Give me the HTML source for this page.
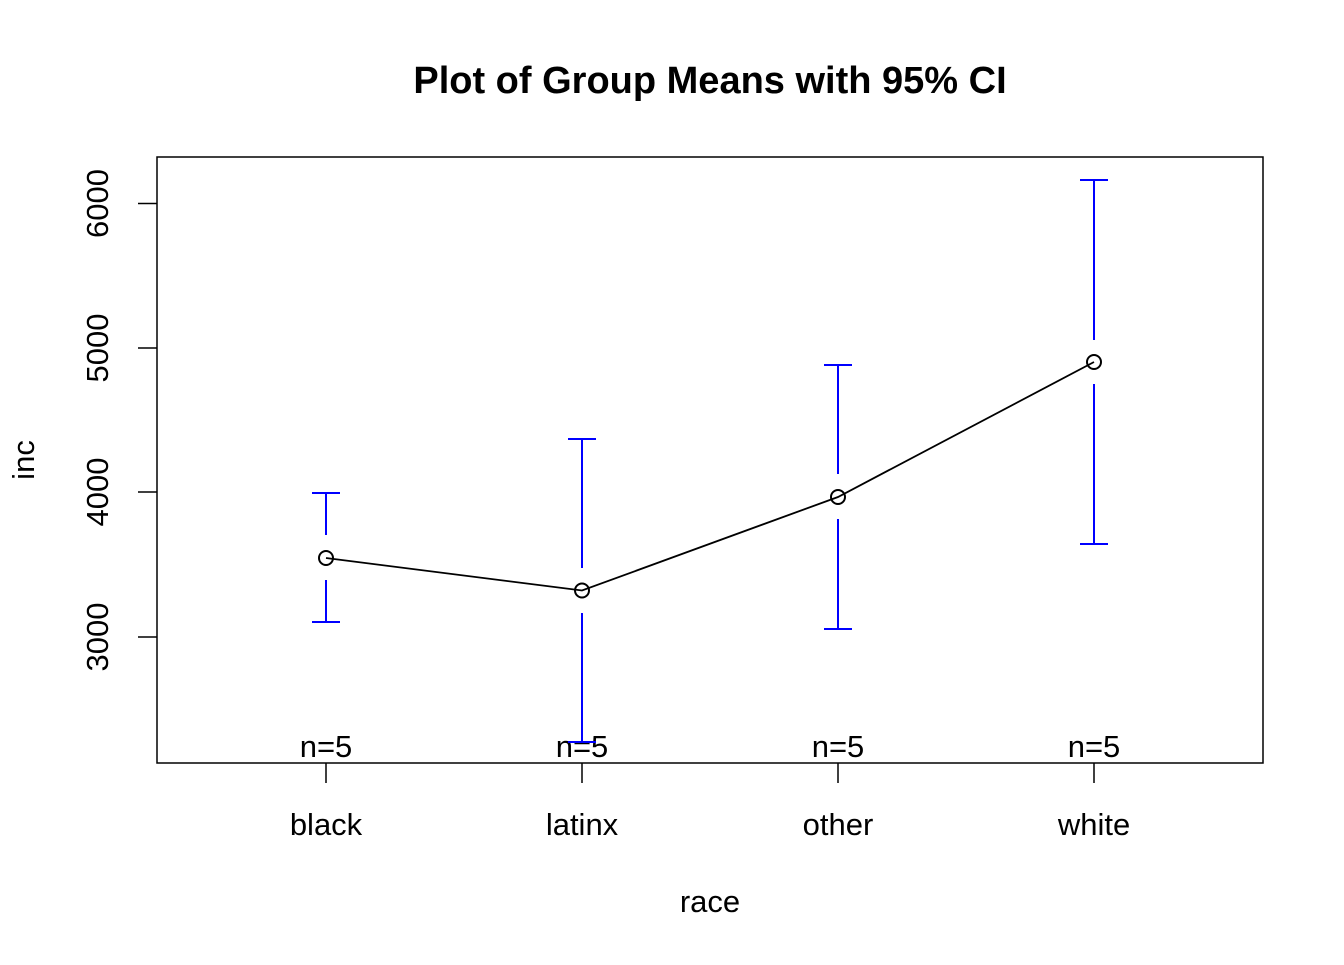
<!DOCTYPE html>
<html><head><style>body{margin:0;background:#fff}</style></head><body>
<svg width="1344" height="960" xmlns="http://www.w3.org/2000/svg" font-family="Liberation Sans, Arial, sans-serif">
<rect width="1344" height="960" fill="#fff"/>
<text x="710" y="93" font-size="38" font-weight="bold" text-anchor="middle">Plot of Group Means with 95% CI</text>
<rect x="157" y="157" width="1106" height="606" fill="none" stroke="#000" stroke-width="1.5"/>
<g stroke="#000" stroke-width="1.5">
<line x1="138" y1="203.5" x2="157" y2="203.5"/><line x1="138" y1="348" x2="157" y2="348"/>
<line x1="138" y1="492" x2="157" y2="492"/><line x1="138" y1="637" x2="157" y2="637"/>
<line x1="326" y1="763" x2="326" y2="783"/><line x1="582" y1="763" x2="582" y2="783"/>
<line x1="838" y1="763" x2="838" y2="783"/><line x1="1094" y1="763" x2="1094" y2="783"/>
</g>
<g font-size="31" text-anchor="middle">
<text transform="translate(108,203.5) rotate(-90)">6000</text>
<text transform="translate(108,348) rotate(-90)">5000</text>
<text transform="translate(108,492) rotate(-90)">4000</text>
<text transform="translate(108,637) rotate(-90)">3000</text>
<text transform="translate(34,460) rotate(-90)">inc</text>
<text x="326" y="835">black</text><text x="582" y="835">latinx</text>
<text x="838" y="835">other</text><text x="1094" y="835">white</text>
<text x="710" y="912">race</text>
<text x="326" y="757">n=5</text><text x="582" y="757">n=5</text>
<text x="838" y="757">n=5</text><text x="1094" y="757">n=5</text>
</g>
<g stroke="#0000ff" stroke-width="2" fill="none">
<path d="M326 493V535M326 580V622M312 493H340M312 622H340"/>
<path d="M582 439V568M582 613V742M568 439H596M568 742H596"/>
<path d="M838 365V474M838 519V629M824 365H852M824 629H852"/>
<path d="M1094 180V340M1094 384V544M1080 180H1108M1080 544H1108"/>
</g>
<g stroke="#000" stroke-width="1.8" fill="none">
<polyline points="326,558 582,590.5 838,497 1094,362"/>
</g>
<g stroke="#000" stroke-width="2" fill="none">
<circle cx="326" cy="558" r="7"/><circle cx="582" cy="590.5" r="7"/>
<circle cx="838" cy="497" r="7"/><circle cx="1094" cy="362" r="7"/>
</g>
</svg>
</body></html>
